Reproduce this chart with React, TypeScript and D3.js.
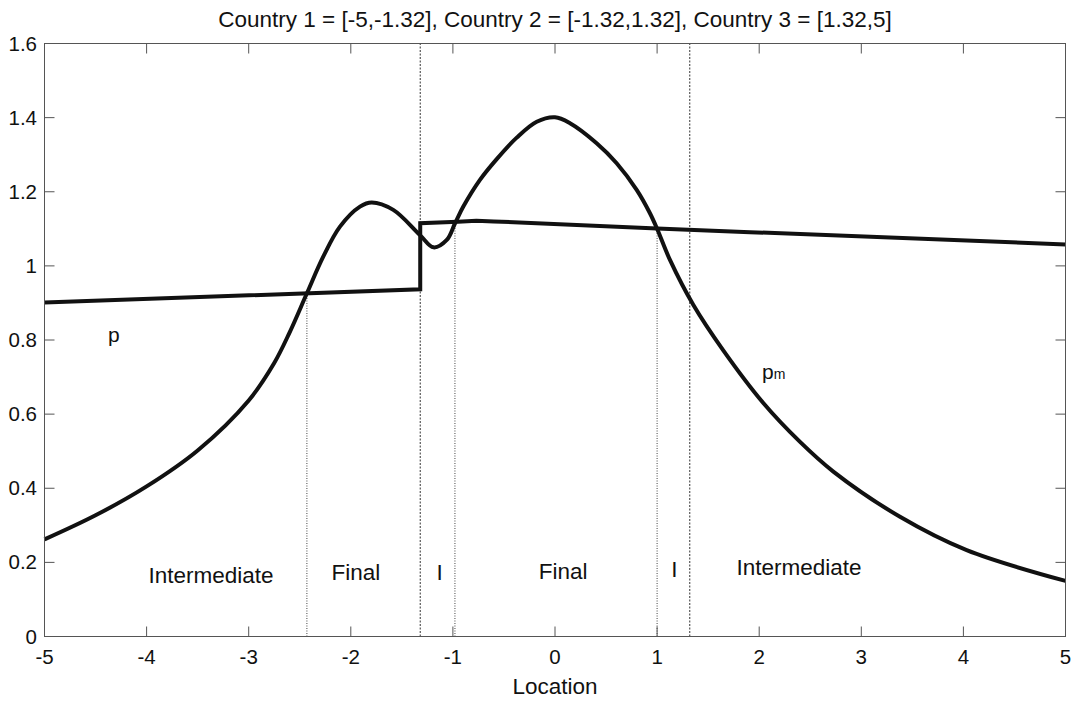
import React from "react";
import * as d3 from "d3";

// Price curve p (piecewise linear, jump at the country 1/2 border)
const pX = [-5, -1.32, -1.32, -0.95, -0.77, -0.6, 1, 1.91, 5];
const pY = [0.901, 0.937, 1.115, 1.119, 1.122, 1.12, 1.101, 1.091, 1.058];

// Curve pm
const pmX = [-5, -4.5, -4, -3.5, -3, -2.75, -2.6, -2.43, -2.27, -2.106, -1.91, -1.795, -1.584, -1.322, -1.19, -1.06, -0.979, -0.898, -0.735, -0.571, -0.375, -0.179, 0, 0.147, 0.408, 0.604, 0.8, 0.93, 1.0, 1.126, 1.354, 1.648, 2.04, 2.4, 2.726, 3.379, 4.032, 5];
const pmY = [0.262, 0.327, 0.405, 0.502, 0.637, 0.738, 0.82, 0.926, 1.025, 1.106, 1.16, 1.171, 1.151, 1.083, 1.05, 1.07, 1.115, 1.16, 1.232, 1.288, 1.346, 1.389, 1.401, 1.385, 1.331, 1.277, 1.205, 1.142, 1.1, 1.016, 0.895, 0.772, 0.63, 0.525, 0.445, 0.323, 0.233, 0.15];

// Region boundaries: crossing points (dotted, up to the curve) and country borders (dashed, full height)
const crossX = [-2.43, -0.98, 1.0];
const crossTop = [0.926, 1.115, 1.101];
const borderX = [-1.32, 1.32];

const regionLabels = ["Intermediate", "Final", "I", "Final", "I", "Intermediate"];
const regionLabelX = [-3.37, -1.95, -1.13, 0.08, 1.17, 2.39];
const regionLabelY = [0.144, 0.152, 0.152, 0.155, 0.16, 0.166];

const xTicks = [-5, -4, -3, -2, -1, 0, 1, 2, 3, 4, 5];
const yTicks = [0, 0.2, 0.4, 0.6, 0.8, 1, 1.2, 1.4, 1.6];

const title = "Country 1 = [-5,-1.32], Country 2 = [-1.32,1.32], Country 3 = [1.32,5]";
const xLabel = "Location";

const W = 1085;
const H = 701;
const left = 44.5;
const right = 1065.5;
const top = 43.5;
const bottom = 636.5;
const font = "'Liberation Sans', Arial, sans-serif";
const axisColor = "#555";

export default function App() {
  const x = d3.scaleLinear().domain([-5, 5]).range([left, right]);
  const y = d3.scaleLinear().domain([0, 1.6]).range([bottom, top]);

  const pLine = d3
    .line<number>()
    .x((_, i) => x(pX[i]))
    .y((_, i) => y(pY[i]))
    .curve(d3.curveLinear);

  const pmLine = d3
    .line<number>()
    .x((_, i) => x(pmX[i]))
    .y((_, i) => y(pmY[i]))
    .curve(d3.curveCatmullRom.alpha(0.5));

  return (
    <svg
      width={W}
      height={H}
      style={{ position: "absolute", left: 0, top: 0, background: "#fff" }}
      fontFamily={font}
    >
      <rect x={0} y={0} width={W} height={H} fill="#fff" />

      {/* title */}
      <text x={(left + right) / 2} y={27} textAnchor="middle" fontSize={22.5} fill="#111">
        {title}
      </text>

      {/* region boundaries */}
      {borderX.map((b, i) => (
        <line
          key={"b" + i}
          x1={x(b)}
          x2={x(b)}
          y1={y(0)}
          y2={y(1.6)}
          stroke="#333"
          strokeWidth={1}
          strokeDasharray="2,1.5"
        />
      ))}
      {crossX.map((c, i) => (
        <line
          key={"c" + i}
          x1={x(c)}
          x2={x(c)}
          y1={y(0)}
          y2={y(crossTop[i])}
          stroke="#444"
          strokeWidth={1}
          strokeDasharray="1,1.5"
        />
      ))}

      {/* curves */}
      <path d={pLine(pX) || ""} fill="none" stroke="#111" strokeWidth={4} strokeLinejoin="miter" />
      <path d={pmLine(pmX) || ""} fill="none" stroke="#111" strokeWidth={4} />

      {/* axes box */}
      <rect x={left} y={top} width={right - left} height={bottom - top} fill="none" stroke={axisColor} strokeWidth={1} />
      {xTicks.map((t) => (
        <g key={"xt" + t}>
          <line x1={x(t)} x2={x(t)} y1={bottom} y2={bottom - 10} stroke={axisColor} />
          <line x1={x(t)} x2={x(t)} y1={top} y2={top + 10} stroke={axisColor} />
          <text x={x(t)} y={664} textAnchor="middle" fontSize={20.5} fill="#111">
            {String(t)}
          </text>
        </g>
      ))}
      {yTicks.map((t) => (
        <g key={"yt" + t}>
          <line x1={left} x2={left + 10} y1={y(t)} y2={y(t)} stroke={axisColor} />
          <line x1={right} x2={right - 10} y1={y(t)} y2={y(t)} stroke={axisColor} />
          <text x={37} y={y(t) + 7} textAnchor="end" fontSize={20.5} fill="#111">
            {String(t)}
          </text>
        </g>
      ))}

      <text x={(left + right) / 2} y={694} textAnchor="middle" fontSize={22.5} fill="#111">
        {xLabel}
      </text>

      {/* region labels */}
      {regionLabels.map((l, i) => (
        <text
          key={"r" + i}
          x={x(regionLabelX[i])}
          y={y(regionLabelY[i])}
          textAnchor="middle"
          fontSize={22.5}
          fill="#111"
        >
          {l}
        </text>
      ))}

      {/* curve labels */}
      <text x={108} y={342} fontSize={21} fill="#111">
        p
      </text>
      <text x={762} y={379} fontSize={21} fill="#111">
        p
        <tspan fontSize={14}>m</tspan>
      </text>
    </svg>
  );
}
